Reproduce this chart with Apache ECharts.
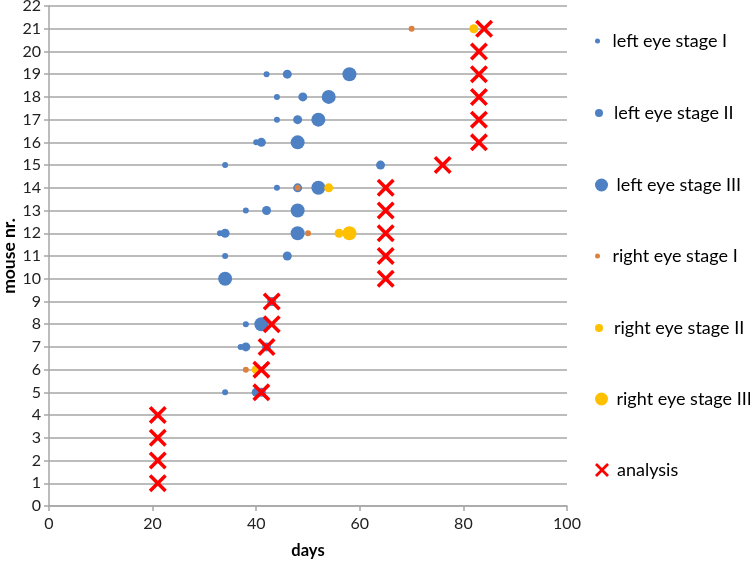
<!DOCTYPE html>
<html>
<head>
<meta charset="utf-8">
<script src="https://cdn.jsdelivr.net/npm/echarts@6/dist/echarts.min.js"></script>
<style>html,body{margin:0;padding:0;background:#fff}#c{width:750px;height:561px}</style>
</head>
<body>
<div id="c"></div>
<script>
// [day, mouse nr.]
const leftStageI   = [[42,19],[44,18],[44,17],[40,16],[34,15],[44,14],[38,13],[33,12],[34,11],[38,8],[37,7],[34,5]];
const leftStageII  = [[46,19],[49,18],[48,17],[41,16],[64,15],[48,14],[42,13],[34,12],[46,11],[43,9],[38,7],[42,7],[40,5],[41,5]];
const leftStageIII = [[58,19],[54,18],[52,17],[48,16],[52,14],[48,13],[48,12],[34,10],[41,8]];
const rightStageI  = [[70,21],[48,14],[50,12],[38,6]];
const rightStageII = [[82,21],[54,14],[56,12],[40,6]];
const rightStageIII= [[58,12]];
const analysis     = [[84,21],[83,20],[83,19],[83,18],[83,17],[83,16],[76,15],[65,14],[65,13],[65,12],[65,11],[65,10],[43,9],[43,8],[42,7],[41,6],[41,5],[21,4],[21,3],[21,2],[21,1]];
const xTicks = [0,20,40,60,80,100];
const yMax = 22;

const names = ['left eye stage I','left eye stage II','left eye stage III','right eye stage I','right eye stage II','right eye stage III','analysis'];
const BLUE='#4e80c4', ORANGE='#dc8240', YELLOW='#ffc000', RED='#ff0000';
const w=14;
const X_PATH='path://M0,'+w+' L'+w+',0 L50,'+(50-w)+' L'+(100-w)+',0 L100,'+w+' L'+(50+w)+',50 L100,'+(100-w)+' L'+(100-w)+',100 L50,'+(50+w)+' L'+w+',100 L0,'+(100-w)+' L'+(50-w)+',50 Z';

const FONT='Lato';
const sizes=[6,9,14,6,9,14,18];
const colors=[BLUE,BLUE,BLUE,ORANGE,YELLOW,YELLOW,RED];
const datas=[leftStageI,leftStageII,leftStageIII,rightStageI,rightStageII,rightStageIII,analysis];

const series = names.map((n,i)=>({
  name:n, type:'scatter', data:datas[i],
  symbol: i===6?X_PATH:'circle',
  symbolSize: sizes[i],
  itemStyle:{color:colors[i], opacity:1},
  z: 2+i
}));

const legendTops=[43,115,187,258,330,401,472];
const legendIcon=[5,8,13,5,8,13,14];
const legends = names.map((n,i)=>({
  data:[{name:n, icon: i===6?X_PATH:'circle'}],
  left:595, top:legendTops[i]-11, padding:0,
  itemWidth:14, itemHeight:legendIcon[i], itemGap:7,
  selectedMode:false,
  textStyle:{fontFamily:FONT,fontSize:18,color:'#000',padding:[0,0,0,3]}
}));

const chart = echarts.init(document.getElementById('c'),null,{renderer:'canvas'});
chart.setOption({
  animation:false,
  backgroundColor:'#fff',
  textStyle:{fontFamily:FONT},
  grid:{left:49,right:183,top:6,bottom:55,containLabel:false,outerBoundsMode:'none'},
  legend:legends,
  xAxis:{
    type:'value', min:xTicks[0], max:xTicks[xTicks.length-1], interval:20,
    name:'days', nameLocation:'middle', nameGap:36, nameMoveOverlap:false,
    nameTextStyle:{fontFamily:FONT,fontSize:16.5,fontWeight:'bold',color:'#000'},
    axisLine:{show:true,lineStyle:{color:'#a6a6a6',width:1.5}},
    axisTick:{show:true,length:5,lineStyle:{color:'#a6a6a6',width:1.5}},
    axisLabel:{fontFamily:FONT,fontSize:16,color:'#222',margin:10},
    splitLine:{show:false}
  },
  yAxis:{
    type:'value', min:0, max:yMax, interval:1,
    name:'mouse nr.', nameLocation:'middle', nameGap:31, nameRotate:90, nameMoveOverlap:false,
    nameTextStyle:{fontFamily:FONT,fontSize:17.5,fontWeight:'bold',color:'#000'},
    axisLine:{show:true,lineStyle:{color:'#a6a6a6',width:1.5}},
    axisTick:{show:true,length:5,lineStyle:{color:'#a6a6a6',width:1.5}},
    axisLabel:{fontFamily:FONT,fontSize:16,color:'#222',margin:8},
    splitLine:{show:true,lineStyle:{color:'#a6a6a6',width:1.5}}
  },
  series:series
});
</script>
</body>
</html>
